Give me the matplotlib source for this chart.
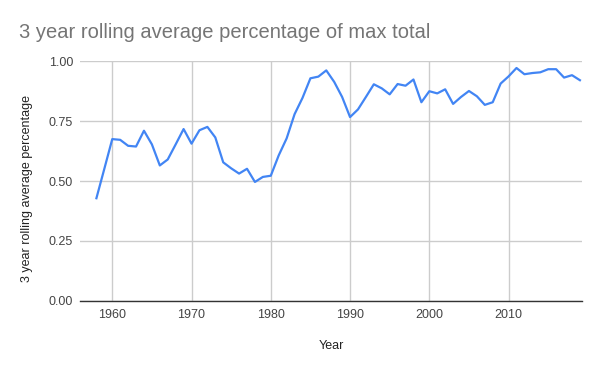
import matplotlib
matplotlib.use("Agg")
import matplotlib.pyplot as plt

years = list(range(1958, 2020))
values = [0.428, 0.551, 0.675, 0.672, 0.647, 0.644, 0.710, 0.653, 0.565, 0.590,
          0.653, 0.717, 0.656, 0.712, 0.726, 0.682, 0.578, 0.553, 0.531, 0.551,
          0.496, 0.517, 0.522, 0.607, 0.678, 0.779, 0.847, 0.929, 0.936, 0.962,
          0.914, 0.851, 0.767, 0.799, 0.851, 0.904, 0.887, 0.862, 0.905, 0.898,
          0.924, 0.829, 0.875, 0.866, 0.883, 0.822, 0.851, 0.876, 0.854, 0.818,
          0.829, 0.907, 0.937, 0.972, 0.946, 0.951, 0.954, 0.967, 0.967, 0.932,
          0.942, 0.921]
x_ticks = [1960, 1970, 1980, 1990, 2000, 2010]
y_ticks = [0.0, 0.25, 0.5, 0.75, 1.0]
y_tick_labels = ["0.00", "0.25", "0.50", "0.75", "1.00"]

plt.rcParams['font.family'] = ['Liberation Sans', 'DejaVu Sans']

fig = plt.figure(figsize=(6, 3.71), dpi=100)
ax = fig.add_axes([80/600, 1 - 300.7/371, (581.5-80)/600, (300.7-61.3)/371])

ax.plot(years, values, color='#4285F4', linewidth=1.6, solid_joinstyle='round', zorder=3)

ax.set_xlim(1955.93, 2019.2)
ax.set_ylim(0, 1.0)
ax.set_xticks(x_ticks)
ax.set_xticklabels([str(t) for t in x_ticks])
ax.set_yticks(y_ticks)
ax.set_yticklabels(y_tick_labels)
ax.grid(True, color='#cccccc', linewidth=1, zorder=0)
ax.tick_params(length=0, labelsize=9, colors='#444444', pad=6)
ax.tick_params(axis='y', pad=5)
for s in ['top', 'right', 'left']:
    ax.spines[s].set_visible(False)
ax.spines['bottom'].set_color('#333333')
ax.spines['bottom'].set_linewidth(1)
ax.set_axisbelow(True)

fig.text(19/600, 1 - 32/371, "3 year rolling average percentage of max total",
         fontsize=14.5, color='#757575', va='center', ha='left')
fig.text(27/600, 1 - 188/371, "3 year rolling average percentage",
         fontsize=9, color='#222222', rotation=90, va='center', ha='center')
fig.text(331/600, 1 - 346/371, "Year", fontsize=9, color='#222222', va='center', ha='center')

fig.savefig("out.png", dpi=100, facecolor='white')
